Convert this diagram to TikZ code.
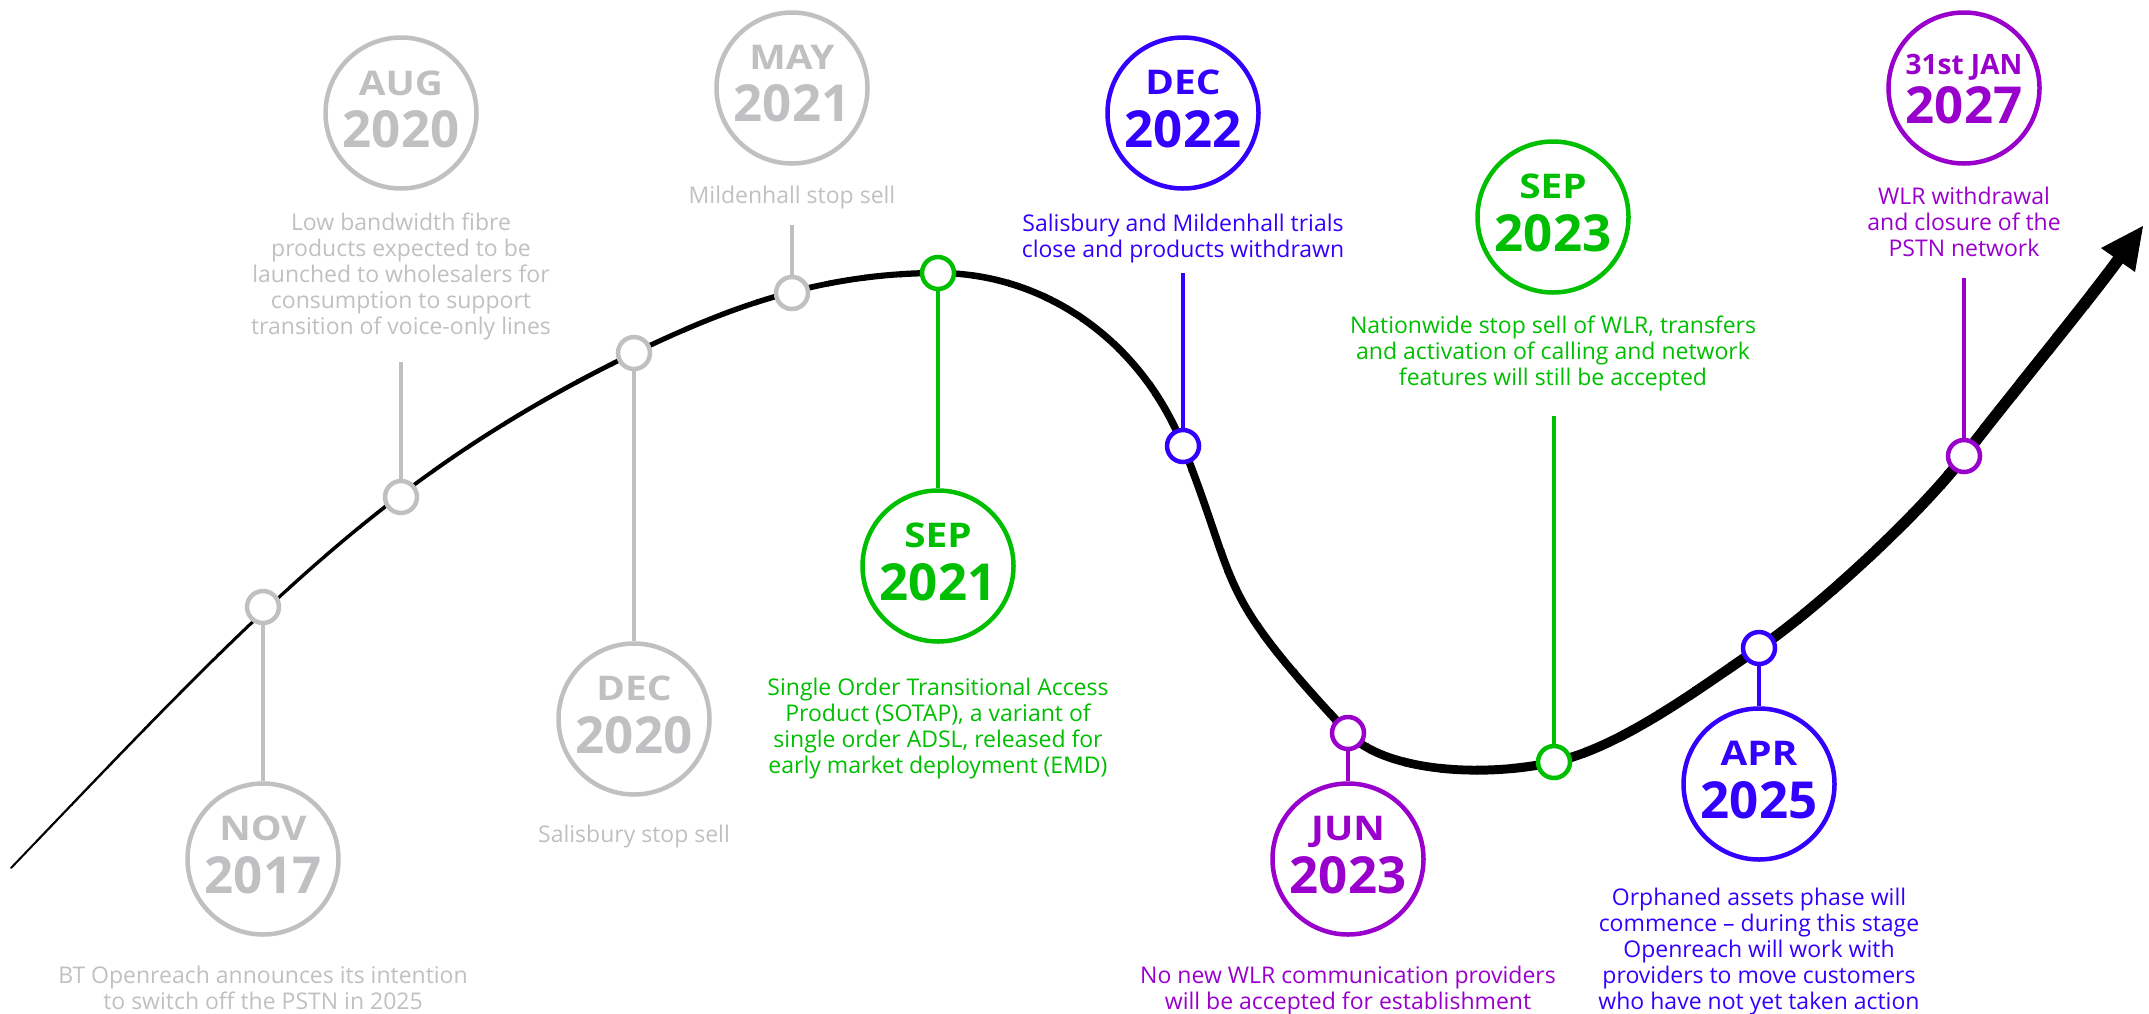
\documentclass[tikz,border=0pt]{standalone}
\usepackage{fontspec}
\setmainfont{Open Sans}
\newfontfamily\monthfont{Open Sans}[FakeStretch=1.14]
\definecolor{tgray}{RGB}{192,192,194}
\definecolor{tgreen}{RGB}{0,190,0}
\definecolor{tblue}{RGB}{51,0,255}
\definecolor{tpurple}{RGB}{153,0,204}
\tikzset{
 bigc/.style={circle, draw=#1, line width=4.5pt, minimum size=151pt, inner sep=0pt, fill=white},
 dot/.style={circle, draw=#1, line width=4.5pt, minimum size=32pt, inner sep=0pt, fill=white},
 stem/.style={draw=#1, line width=4.5pt},
 month/.style={text=#1, font=\monthfont\fontsize{34pt}{34pt}\selectfont\bfseries, anchor=base, inner sep=0pt},
 smallmonth/.style={text=#1, font=\fontsize{28pt}{28pt}\selectfont\bfseries, anchor=base, inner sep=0pt},
 year/.style={text=#1, font=\fontsize{51pt}{51pt}\selectfont\bfseries, anchor=base, inner sep=0pt},
 desc/.style={text=#1, anchor=base, inner sep=0pt},
 timeline/.style={draw=black, line cap=round, line join=round},
}
\newcommand\mydesc[1]{\parbox[t]{600pt}{\centering\fontsize{23pt}{26pt}\selectfont #1}}
\begin{document}
\begin{tikzpicture}[x=1pt,y=-1pt]
\useasboundingbox (0,0) rectangle (2149,1013);
% main tapered curve, drawn in vertical slices of growing width
\foreach \i in {0,...,59} {
  \begin{scope}
    \clip (\i*36,0) rectangle (\i*36+37,1013);
    \draw[timeline, line width=2pt+\i*0.17pt]
      (11,868) .. controls (252.5,616) and (382,475) .. (634,353)
      .. controls (724,309.5) and (818,273) .. (938,273)
      .. controls (1043,273) and (1140,339) .. (1183,446)
      .. controls (1241,593) and (1213,588) .. (1348,733)
      .. controls (1382,769.5) and (1476,779) .. (1554,762)
      .. controls (1622,747) and (1701,687) .. (1759,648)
      .. controls (1817,609) and (1922,512) .. (1964,456)
      .. controls (1997,412) and (2086,304) .. (2118,260);
  \end{scope}
}
\fill[black] (2143,226) -- (2135,272) -- (2101,248) -- cycle;

% NOV 2017
\node[dot=tgray] (novd) at (263,607) {};
\node[bigc=tgray] (novc) at (263,859) {};
\draw[stem=tgray] (novd) -- (novc);
\node[month=tgray] (novm) at ([yshift=19pt]novc.center) {NOV};
\node[year=tgray] (novy) at ([yshift=-34pt]novc.center) {2017};
\node[desc=tgray] (novt) at (263,983) {\mydesc{BT Openreach announces its intention\\to switch off the PSTN in 2025}};

% AUG 2020
\node[dot=tgray] (augd) at (401,497) {};
\node[bigc=tgray] (augc) at (401,113) {};
\coordinate (augtop) at (401,362);
\draw[stem=tgray] (augd) -- (augtop);
\node[month=tgray] (augm) at ([yshift=18pt]augc.center) {AUG};
\node[year=tgray] (augy) at ([yshift=-34pt]augc.center) {2020};
\node[desc=tgray] (augt) at (401,230) {\mydesc{Low bandwidth fibre\\products expected to be\\launched to wholesalers for\\consumption to support\\transition of voice-only lines}};

% DEC 2020
\node[dot=tgray] (d20d) at (634,353) {};
\node[bigc=tgray] (d20c) at (634,719) {};
\draw[stem=tgray] (d20d) -- (d20c);
\node[month=tgray] (d20m) at ([yshift=19pt]d20c.center) {DEC};
\node[year=tgray] (d20y) at ([yshift=-34pt]d20c.center) {2020};
\node[desc=tgray] (d20t) at (634,842) {\mydesc{Salisbury stop sell}};

% MAY 2021
\node[dot=tgray] (mayd) at (792,293) {};
\node[bigc=tgray] (mayc) at (792,88) {};
\coordinate (maytop) at (792,225);
\draw[stem=tgray] (mayd) -- (maytop);
\node[month=tgray] (maym) at ([yshift=19pt]mayc.center) {MAY};
\node[year=tgray] (mayy) at ([yshift=-33pt]mayc.center) {2021};
\node[desc=tgray] (mayt) at (792,203) {\mydesc{Mildenhall stop sell}};

% SEP 2021
\node[dot=tgreen] (s21d) at (938,273) {};
\node[bigc=tgreen] (s21c) at (938,566) {};
\draw[stem=tgreen] (s21d) -- (s21c);
\node[month=tgreen] (s21m) at ([yshift=19pt]s21c.center) {SEP};
\node[year=tgreen] (s21y) at ([yshift=-34pt]s21c.center) {2021};
\node[desc=tgreen] (s21t) at (938,695) {\mydesc{Single Order Transitional Access\\Product (SOTAP), a variant of\\single order ADSL, released for\\early market deployment (EMD)}};

% DEC 2022
\node[dot=tblue] (d22d) at (1183,446) {};
\node[bigc=tblue] (d22c) at (1183,113) {};
\coordinate (d22top) at (1183,273);
\draw[stem=tblue] (d22d) -- (d22top);
\node[month=tblue] (d22m) at ([yshift=19pt]d22c.center) {DEC};
\node[year=tblue] (d22y) at ([yshift=-34pt]d22c.center) {2022};
\node[desc=tblue] (d22t) at (1183,231) {\mydesc{Salisbury and Mildenhall trials\\close and products withdrawn}};

% JUN 2023
\node[dot=tpurple] (jund) at (1348,733) {};
\node[bigc=tpurple] (junc) at (1348,859) {};
\draw[stem=tpurple] (jund) -- (junc);
\node[month=tpurple] (junm) at ([yshift=19pt]junc.center) {JUN};
\node[year=tpurple] (juny) at ([yshift=-34pt]junc.center) {2023};
\node[desc=tpurple] (junt) at (1348,983) {\mydesc{No new WLR communication providers\\will be accepted for establishment}};

% SEP 2023
\node[dot=tgreen] (s23d) at (1554,762) {};
\node[bigc=tgreen] (s23c) at (1553,217) {};
\coordinate (s23top) at (1554,416);
\draw[stem=tgreen] (s23d) -- (s23top);
\node[month=tgreen] (s23m) at ([yshift=19pt]s23c.center) {SEP};
\node[year=tgreen] (s23y) at ([yshift=-34pt]s23c.center) {2023};
\node[desc=tgreen] (s23t) at (1553,333) {\mydesc{Nationwide stop sell of WLR, transfers\\and activation of calling and network\\features will still be accepted}};

% APR 2025
\node[dot=tblue] (aprd) at (1759,648) {};
\node[bigc=tblue] (aprc) at (1759,784) {};
\draw[stem=tblue] (aprd) -- (aprc);
\node[month=tblue] (aprm) at ([yshift=19pt]aprc.center) {APR};
\node[year=tblue] (apry) at ([yshift=-34pt]aprc.center) {2025};
\node[desc=tblue] (aprt) at (1759,905) {\mydesc{Orphaned assets phase will\\commence -- during this stage\\Openreach will work with\\providers to move customers\\who have not yet taken action}};

% 31st JAN 2027
\node[dot=tpurple] (jand) at (1964,456) {};
\node[bigc=tpurple] (janc) at (1964,88) {};
\coordinate (jantop) at (1964,278);
\draw[stem=tpurple] (jand) -- (jantop);
\node[smallmonth=tpurple] (janm) at ([yshift=14pt]janc.center) {31st JAN};
\node[year=tpurple] (jany) at ([yshift=-35pt]janc.center) {2027};
\node[desc=tpurple] (jant) at (1964,204) {\mydesc{WLR withdrawal\\and closure of the\\PSTN network}};
\end{tikzpicture}
\end{document}
